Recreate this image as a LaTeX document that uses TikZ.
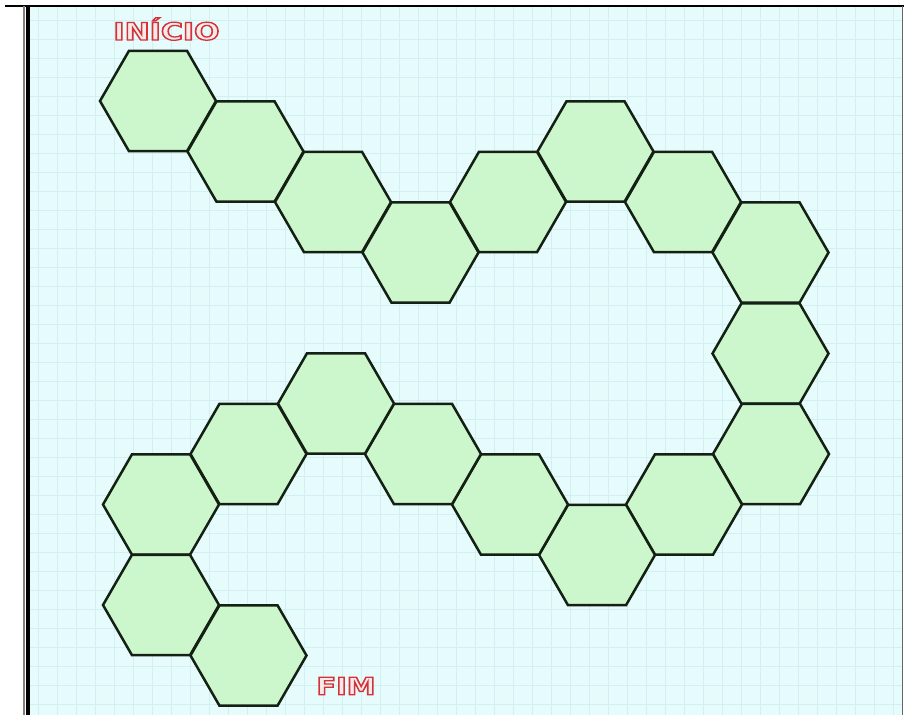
\documentclass[tikz,border=0pt]{standalone}
\usepackage{fontspec}
\setsansfont{DejaVu Sans}
\usepackage{graphicx}
\usetikzlibrary{shapes.geometric}

\definecolor{paper}{HTML}{E6FBFB}
\definecolor{gridcol}{HTML}{D2EFF1}
\definecolor{cellfill}{HTML}{CCF7CC}
\definecolor{cellline}{HTML}{152015}
\definecolor{labelfill}{HTML}{FBE9EA}

% hollow red letters (stroke + pale fill)
\newcommand{\hollowtext}[1]{\textcolor{labelfill}{\special{pdf:literal direct 0.82 0.2 0.22 RG 2 Tr 1.3 w}#1\special{pdf:literal direct 0 Tr}}}

\begin{document}
\begin{tikzpicture}[
    x=1pt, y=-1pt,
    hexcell/.style={regular polygon, regular polygon sides=6, minimum size=116pt, inner sep=0pt, draw=cellline, line width=2.5pt, fill=cellfill},
    gridline/.style={gridcol, line width=0.6pt},
    marker/.style={font=\sffamily\bfseries\fontsize{24}{24}\selectfont, inner sep=0pt}
]

    \useasboundingbox (0,0) rectangle (904,715);
    \fill[white] (0,0) rectangle (904,715);

    % Paper
    \fill[paper] (30,7) rectangle (902,715);
    \foreach \gx in {38,57,...,900} \draw[gridline] (\gx,7) -- (\gx,715);
    \foreach \gy in {20,39,...,715} \draw[gridline] (30,\gy) -- (902,\gy);
    \draw[black, line width=2pt] (5,6) -- (904,6);
    \draw[gray, line width=2.5pt] (24,6) -- (24,715);
    \draw[black, line width=4.5pt] (28,6) -- (28,715);
    \draw[gray!80!black, line width=1.5pt] (902.5,6) -- (902.5,715);

    % Upper row of cells
    \node[hexcell] (h1) at (158,101) {};
    \node[hexcell] (h2) at (245.5,151.5) {};
    \node[hexcell] (h3) at (333,202) {};
    \node[hexcell] (h4) at (420.5,252.5) {};
    \node[hexcell] (h5) at (508,202) {};
    \node[hexcell] (h6) at (595.5,151.5) {};
    \node[hexcell] (h7) at (683,202) {};
    \node[hexcell] (h8) at (770.5,252.5) {};

    % Right side
    \node[hexcell] (h9) at (770.5,353.5) {};
    \node[hexcell] (h10) at (771,454) {};

    % Lower row of cells
    \node[hexcell] (h11) at (684,504.5) {};
    \node[hexcell] (h12) at (597,555) {};
    \node[hexcell] (h13) at (510,504.5) {};
    \node[hexcell] (h14) at (423,454) {};
    \node[hexcell] (h15) at (336,403.5) {};
    \node[hexcell] (h16) at (248.5,454) {};
    \node[hexcell] (h17) at (161,504.5) {};
    \node[hexcell] (h18) at (161,605) {};
    \node[hexcell] (h19) at (248.5,655.5) {};

    % Labels
    \node[marker] (start) at (166.5,29) {\scalebox{1.25}[1]{\hollowtext{INÍCIO}}};
    \node[marker] (finish) at (346,686) {\scalebox{1.2}[1]{\hollowtext{FIM}}};

\end{tikzpicture}
\end{document}
